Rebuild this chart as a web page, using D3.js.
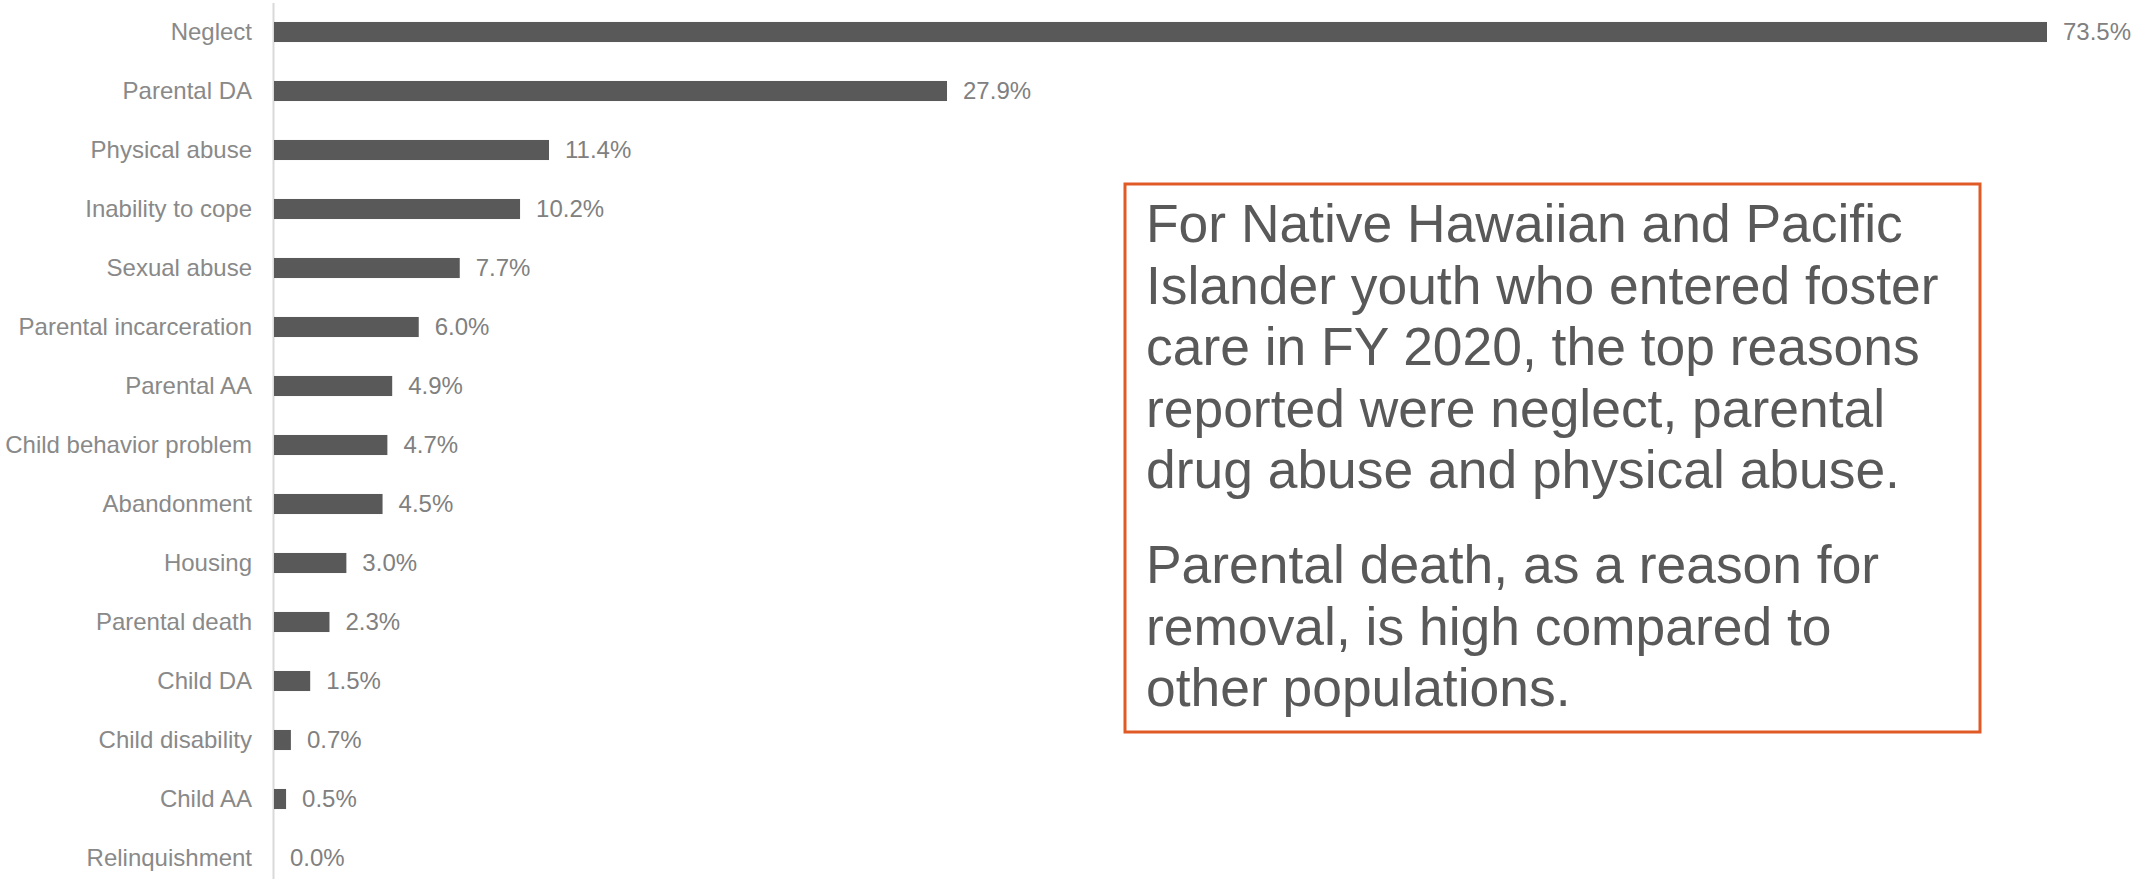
<!DOCTYPE html>
<html>
<head>
<meta charset="utf-8">
<script src="https://cdn.jsdelivr.net/npm/d3@7"></script>
<style>
  html, body { margin: 0; padding: 0; background: #fff; }
  svg { display: block; font-family: Arial, "Liberation Sans", sans-serif; }
</style>
</head>
<body>
<svg id="chart" width="2131" height="879"></svg>
<script>
// Reasons for removal, share of entries (%)
const categories = [
  "Neglect", "Parental DA", "Physical abuse", "Inability to cope", "Sexual abuse",
  "Parental incarceration", "Parental AA", "Child behavior problem", "Abandonment",
  "Housing", "Parental death", "Child DA", "Child disability", "Child AA", "Relinquishment"
];
const values = [73.5, 27.9, 11.4, 10.2, 7.7, 6.0, 4.9, 4.7, 4.5, 3.0, 2.3, 1.5, 0.7, 0.5, 0.0];

const calloutParagraphs = [
  ["For Native Hawaiian and Pacific",
   "Islander youth who entered foster",
   "care in FY 2020, the top reasons",
   "reported were neglect, parental",
   "drug abuse and physical abuse."],
  ["Parental death, as a reason for",
   "removal, is high compared to",
   "other populations."]
];

const svg = d3.select("#chart");
const x0 = 274;

const x = d3.scaleLinear().domain([0, 73.5]).range([x0, 2047]);
const y = d3.scaleBand().domain(categories).range([2.5, 887.5]).paddingInner(0.66).paddingOuter(0.33);

// vertical axis line
svg.append("line")
  .attr("x1", x0 - 0.5).attr("x2", x0 - 0.5)
  .attr("y1", 3).attr("y2", 879)
  .attr("stroke", "#d9d9d9").attr("stroke-width", 2);

// bars
svg.selectAll("rect.bar").data(values).join("rect")
  .attr("class", "bar")
  .attr("x", x0)
  .attr("y", (d, i) => y(categories[i]))
  .attr("width", d => x(d) - x0)
  .attr("height", y.bandwidth())
  .attr("fill", "#595959");

// category labels
svg.selectAll("text.cat").data(categories).join("text")
  .attr("class", "cat")
  .attr("x", 252)
  .attr("y", d => y(d) + y.bandwidth() / 2)
  .attr("dy", "0.33em")
  .attr("text-anchor", "end")
  .attr("font-size", 24)
  .attr("fill", "#898989")
  .text(d => d);

// value labels
svg.selectAll("text.val").data(values).join("text")
  .attr("class", "val")
  .attr("x", d => x(d) + 16)
  .attr("y", (d, i) => y(categories[i]) + y.bandwidth() / 2)
  .attr("dy", "0.33em")
  .attr("font-size", 24)
  .attr("fill", "#808080")
  .text(d => d3.format(".1f")(d) + "%");

// callout box
svg.append("rect")
  .attr("x", 1125).attr("y", 184)
  .attr("width", 855).attr("height", 548)
  .attr("fill", "none")
  .attr("stroke", "#E05A26").attr("stroke-width", 3);

const lineH = 61.5;
let base = 242;
const callout = svg.append("text")
  .attr("font-size", 53.4)
  .attr("fill", "#595959");
calloutParagraphs.forEach((para, pi) => {
  if (pi > 0) base += 33.5;
  para.forEach(line => {
    callout.append("tspan").attr("x", 1146).attr("y", base).text(line);
    base += lineH;
  });
});
</script>
</body>
</html>
